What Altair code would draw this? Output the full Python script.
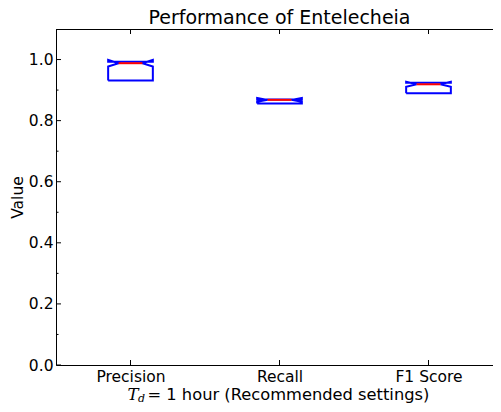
import altair as alt
import pandas as pd

# ---- data ----
categories = ["Precision", "Recall", "F1 Score"]
q1 = [0.931, 0.856, 0.890]
median = [0.988, 0.868, 0.919]
q3 = [0.993, 0.869, 0.924]
notch_low = [0.977, 0.862, 0.911]
notch_high = [0.999, 0.874, 0.927]
y_major = [0.0, 0.2, 0.4, 0.6, 0.8, 1.0]
y_minor = [0.1, 0.3, 0.5, 0.7, 0.9]
title_text = "Performance of Entelecheia"
xtitle_rest = "= 1 hour (Recommended settings)"

BOX_HALF = 0.15      # half box width (data units)
NOTCH_HALF = 0.08    # half width at the notch
MED_HALF = 0.08

# ---- build notched box outlines from the statistics ----
rows = []
for i, c in enumerate(categories):
    p = i + 1
    pts = [
        (p - BOX_HALF, q1[i]),
        (p - BOX_HALF, notch_low[i]),
        (p - NOTCH_HALF, median[i]),
        (p - BOX_HALF, notch_high[i]),
        (p - BOX_HALF, q3[i]),
        (p + BOX_HALF, q3[i]),
        (p + BOX_HALF, notch_high[i]),
        (p + NOTCH_HALF, median[i]),
        (p + BOX_HALF, notch_low[i]),
        (p + BOX_HALF, q1[i]),
        (p - BOX_HALF, q1[i]),
    ]
    for k, (x, y) in enumerate(pts):
        rows.append({"cat": c, "ord": k, "x": x, "y": y})
box_df = pd.DataFrame(rows)

med_df = pd.DataFrame({
    "cat": categories,
    "x": [i + 1 - MED_HALF for i in range(len(categories))],
    "x2": [i + 1 + MED_HALF for i in range(len(categories))],
    "y": median,
})
pos_df = pd.DataFrame({"x": [i + 1 for i in range(len(categories))]})
major_df = pd.DataFrame({"y": y_major})
minor_df = pd.DataFrame({"y": y_minor})
one_df = pd.DataFrame({"k": [0]})

W, H = 437, 336
RANGE = 447
FONT = "DejaVu Sans"
FS = 15.5
FS_XT = 16.3

label_expr = "[" + ",".join("'%s'" % c for c in categories) + "][datum.value - 1]"

xscale = alt.Scale(domain=[0.5, 3.5], range=[0, RANGE], nice=False, zero=False)
yscale = alt.Scale(domain=[0, 1.1], nice=False, zero=True)
xaxis = alt.Axis(values=[1, 2, 3], labelExpr=label_expr, ticks=False, grid=False,
                 title=None, domainColor="black", domainWidth=1, labelColor="black",
                 labelFont=FONT, labelFontSize=FS, labelPadding=4, labelFlush=False)
yaxis = alt.Axis(values=y_major, format=".1f", ticks=False, grid=False,
                 title="Value", titleFont=FONT, titleFontSize=FS, titleFontWeight="normal",
                 titleColor="black", titlePadding=3, domainColor="black", domainWidth=1,
                 labelColor="black", labelFont=FONT, labelFontSize=FS, labelPadding=3)


def X(f):
    return alt.X(f, type="quantitative", scale=xscale, axis=xaxis)


def Y(f):
    return alt.Y(f, type="quantitative", scale=yscale, axis=yaxis)


boxes = alt.Chart(box_df).mark_line(color="#0000ff", strokeWidth=2, strokeJoin="miter").encode(
    x=X("x"), y=Y("y"), detail="cat:N", order="ord:Q")

meds = alt.Chart(med_df).mark_rule(color="#ff0000", strokeWidth=2).encode(
    x=X("x"), x2="x2", y=Y("y"))

top_spine = alt.Chart(one_df).mark_rule(color="black", strokeWidth=1).encode(
    x=alt.value(0), x2=alt.value(RANGE), y=alt.value(0.5))

left_major = alt.Chart(major_df).mark_rule(color="black", strokeWidth=1).encode(
    x=alt.value(0), x2=alt.value(5), y=Y("y"))
left_minor = alt.Chart(minor_df).mark_rule(color="black", strokeWidth=1).encode(
    x=alt.value(0), x2=alt.value(2.5), y=Y("y"))
top_ticks = alt.Chart(pos_df).mark_rule(color="black", strokeWidth=1).encode(
    x=X("x"), y=alt.value(0), y2=alt.value(5))
bottom_ticks = alt.Chart(pos_df).mark_rule(color="black", strokeWidth=1).encode(
    x=X("x"), y=alt.value(H - 5), y2=alt.value(H))

title_mark = alt.Chart(one_df).mark_text(
    text=title_text, font=FONT, fontSize=19, align="center",
    baseline="alphabetic", color="black").encode(x=alt.value(RANGE / 2), y=alt.value(-5))

TB = 370.5  # baseline of the x title, relative to plot top
t_main = alt.Chart(one_df).mark_text(
    text="T", font="DejaVu Serif", fontStyle="italic", fontSize=16.5, align="left",
    baseline="alphabetic", color="black").encode(x=alt.value(71.5), y=alt.value(TB))
t_sub = alt.Chart(one_df).mark_text(
    text="d", font="DejaVu Serif", fontStyle="italic", fontSize=11, align="left",
    baseline="alphabetic", color="black").encode(x=alt.value(82), y=alt.value(TB + 2))
t_rest = alt.Chart(one_df).mark_text(
    text=xtitle_rest, font=FONT, fontSize=FS_XT, align="left",
    baseline="alphabetic", color="black").encode(x=alt.value(91.5), y=alt.value(TB))

chart = alt.layer(
    boxes, meds, top_spine, left_major, left_minor,
    top_ticks, bottom_ticks, title_mark, t_main, t_sub, t_rest
).properties(
    width=W, height=H,
    padding={"left": 48, "top": 21, "right": 0, "bottom": 39},
    autosize=alt.AutoSizeParams(type="none"),
).configure(background="white").configure_view(stroke=None)

chart.save("out.html", embed_options={"renderer": "svg", "actions": False})
